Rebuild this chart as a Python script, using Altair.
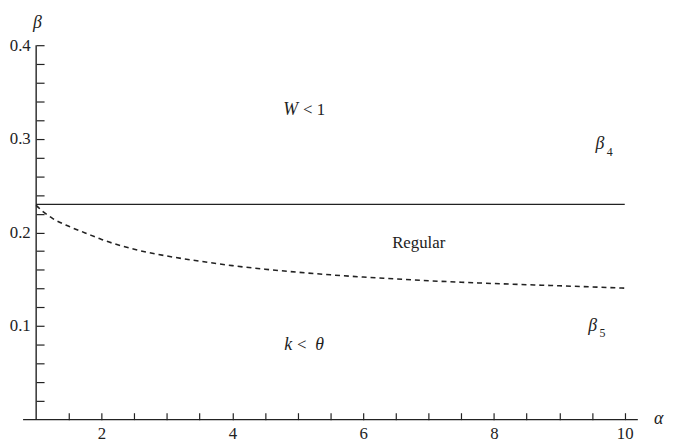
import altair as alt
import pandas as pd

# ---- data ----
alpha_curve = [1.0, 1.1, 1.25, 1.5, 1.75, 2.0, 2.5, 3.0, 3.5, 4.0, 4.5, 5.0, 5.5, 6.0, 6.5, 7.0, 7.5, 8.0, 9.0, 10.0]
beta_curve = [0.229, 0.2225, 0.215, 0.2065, 0.1995, 0.1925, 0.182, 0.1748, 0.1693, 0.1645, 0.1607, 0.1575,
              0.1547, 0.1523, 0.1503, 0.1484, 0.1468, 0.1454, 0.143, 0.1405]

alpha_line = [1.0, 10.0]
beta_line = [0.23, 0.23]

x_ticks = [1.5, 2, 2.5, 3, 3.5, 4, 4.5, 5, 5.5, 6, 6.5, 7, 7.5, 8, 8.5, 9, 9.5, 10]
x_labels = [2, 4, 6, 8, 10]
y_ticks = [0.02, 0.04, 0.06, 0.08, 0.1, 0.12, 0.14, 0.16, 0.18, 0.2,
           0.22, 0.24, 0.26, 0.28, 0.3, 0.32, 0.34, 0.36, 0.38, 0.4]
y_labels = [0.1, 0.2, 0.3, 0.4]

x_axis_span = [0.8, 10.2]
y_axis_span = [0.0, 0.4]

italic_text = ["W", "k", "θ", "β", "β", "β", "α"]
italic_a = [4.89, 4.852, 5.335, 9.62, 9.51, 1.02, 10.52]
italic_b = [0.331, 0.0793, 0.0793, 0.294, 0.1004, 0.424, 0.001]

roman_text = ["< 1", "<", "Regular"]
roman_a = [5.25, 5.06, 6.85]
roman_b = [0.331, 0.0793, 0.1887]

sub_text = ["4", "5"]
sub_a = [9.77, 9.66]
sub_b = [0.286, 0.093]

FONT = "Liberation Serif"
INK = "#222222"

curve_df = pd.DataFrame({"a": alpha_curve, "b": beta_curve})
line_df = pd.DataFrame({"a": alpha_line, "b": beta_line})
xaxis_df = pd.DataFrame({"a": [x_axis_span[0]], "a2": [x_axis_span[1]], "b": [0.0]})
yaxis_df = pd.DataFrame({"a": [1.0], "b": [y_axis_span[0]], "b2": [y_axis_span[1]]})
it_df = pd.DataFrame({"t": italic_text, "a": italic_a, "b": italic_b})
ro_df = pd.DataFrame({"t": roman_text, "a": roman_a, "b": roman_b})
sub_df = pd.DataFrame({"t": sub_text, "a": sub_a, "b": sub_b})

xlab_expr = ("indexof([" + ",".join(str(v) for v in x_labels) + "], datum.value) >= 0 ? "
             "format(datum.value, 'd') : ''")
ylab_expr = ("indexof([" + ",".join(str(v) for v in y_labels) + "], datum.value) >= 0 ? "
             "format(datum.value, '.1f') : ''")

xscale = alt.Scale(domain=[1, 10.2], nice=False, zero=False)
yscale = alt.Scale(domain=[0, 0.4], nice=False, zero=False)

xaxis = alt.Axis(values=x_ticks, labelExpr=xlab_expr, title=None, grid=False, domain=False,
                 offset=-7, tickSize=7, tickColor=INK, tickWidth=1.2, labelPadding=6,
                 labelFont=FONT, labelFontSize=17, labelColor=INK, labelFlush=False,
                 labelOverlap=False)
yaxis = alt.Axis(values=y_ticks, labelExpr=ylab_expr, title=None, grid=False, domain=False,
                 offset=-8, tickSize=8, tickColor=INK, tickWidth=1.2, labelPadding=6,
                 labelFont=FONT, labelFontSize=17, labelColor=INK, labelFlush=False,
                 labelOverlap=False)


def X(field):
    return alt.X(field, type="quantitative", scale=xscale, axis=xaxis)


def Y(field):
    return alt.Y(field, type="quantitative", scale=yscale, axis=yaxis)


curve = alt.Chart(curve_df).mark_line(
    color=INK, strokeWidth=1.6, strokeDash=[5, 4], interpolate="monotone"
).encode(x=X("a"), y=Y("b"))

hline = alt.Chart(line_df).mark_line(color=INK, strokeWidth=1.4).encode(x=X("a"), y=Y("b"))

xrule = alt.Chart(xaxis_df).mark_rule(color=INK, strokeWidth=1.4).encode(x=X("a"), x2="a2:Q", y=Y("b"))
yrule = alt.Chart(yaxis_df).mark_rule(color=INK, strokeWidth=1.4).encode(x=X("a"), y=Y("b"), y2="b2:Q")

it_text = alt.Chart(it_df).mark_text(
    font=FONT, fontStyle="italic", fontSize=18, color=INK, align="center", baseline="middle"
).encode(x=X("a"), y=Y("b"), text="t:N")

ro_text = alt.Chart(ro_df).mark_text(
    font=FONT, fontSize=17, color=INK, align="center", baseline="middle"
).encode(x=X("a"), y=Y("b"), text="t:N")

sub_t = alt.Chart(sub_df).mark_text(
    font=FONT, fontSize=12, color=INK, align="center", baseline="middle"
).encode(x=X("a"), y=Y("b"), text="t:N")

chart = alt.layer(curve, hline, xrule, yrule, it_text, ro_text, sub_t).properties(
    width=609, height=379,
    autosize=alt.AutoSizeParams(type="none"),
    padding={"left": 28.5, "top": 35, "right": 27.5, "bottom": 22},
).configure_view(stroke=None).configure_axis(labelOverlap=False)

chart.save("out.html", embed_options={"renderer": "svg", "actions": False})
